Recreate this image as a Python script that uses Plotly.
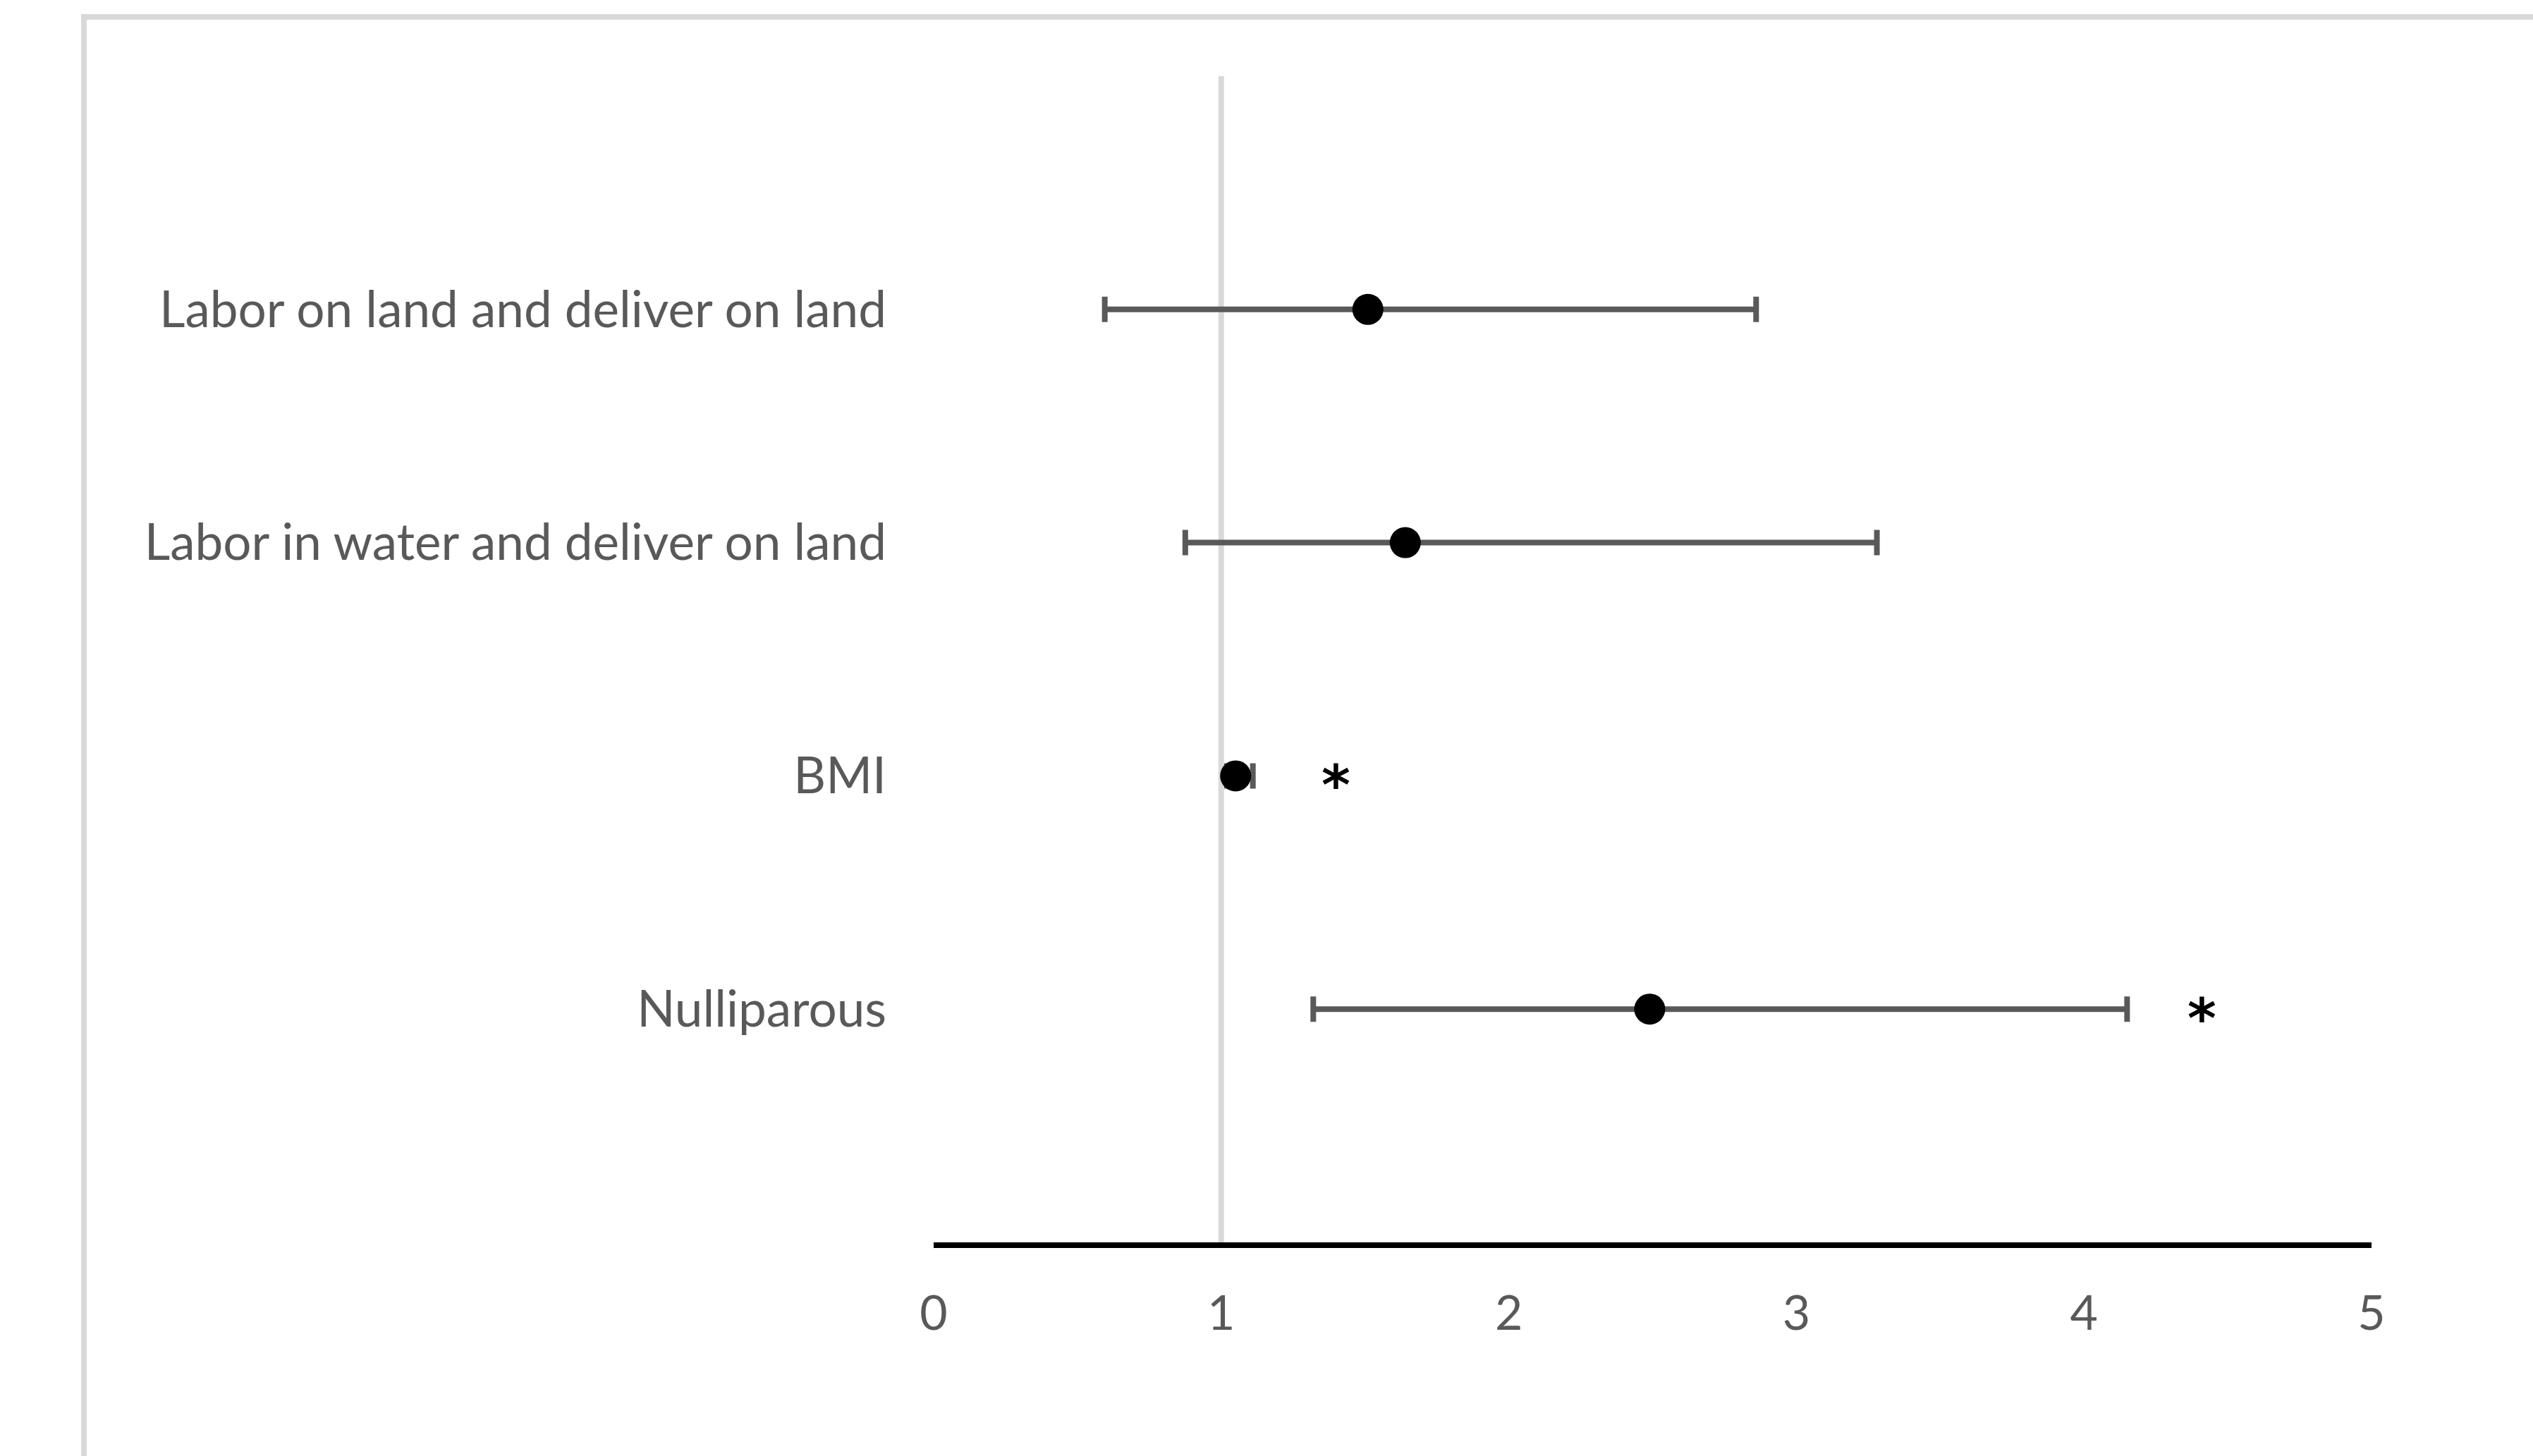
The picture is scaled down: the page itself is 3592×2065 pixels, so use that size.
import plotly.graph_objects as go

# Odds ratios with 95% confidence intervals
factors = [
    "Nulliparous",
    "BMI",
    "Labor in water and deliver on land",
    "Labor on land and deliver on land",
]
row_pos = [1, 2, 3, 4]
odds_ratio = [2.49, 1.05, 1.64, 1.51]
ci_low = [1.32, 1.02, 0.875, 0.595]
ci_high = [4.15, 1.11, 3.28, 2.86]

# Significance markers
sig_x = [4.41, 1.40]
sig_y = [1, 2]
sig_text = ["*", "*"]

x_ticks = [0, 1, 2, 3, 4, 5]
ref_value = 1

err_plus = [h - o for h, o in zip(ci_high, odds_ratio)]
err_minus = [o - l for o, l in zip(odds_ratio, ci_low)]

W, H = 3592, 2065
L, R = 1324, 3363
T, B = 108, 1762

fig = go.Figure()

# Reference line at OR = 1
fig.add_trace(go.Scatter(
    x=[ref_value, ref_value], y=[0, 5], mode="lines",
    line=dict(color="#D9D9D9", width=8), hoverinfo="skip", showlegend=False,
))

fig.add_trace(go.Scatter(
    x=odds_ratio, y=row_pos, mode="markers",
    marker=dict(size=44, color="black"),
    error_x=dict(type="data", symmetric=False, array=err_plus, arrayminus=err_minus,
                 color="#595959", thickness=8, width=18),
    showlegend=False,
))

for sx, sy, st in zip(sig_x, sig_y, sig_text):
    fig.add_annotation(
        x=sx, y=sy, text=st, showarrow=False, yshift=-14,
        font=dict(family="DejaVu Sans", size=78, color="black", weight="bold"),
    )

# Outer frame
fx0 = (119 - L) / (R - L)
fy1 = (B - 24) / (B - T)
fig.add_shape(type="rect", xref="paper", yref="paper",
              x0=fx0, x1=3.0, y0=-1.0, y1=fy1,
              line=dict(color="#D9D9D9", width=8), fillcolor="rgba(0,0,0,0)", layer="below")

fig.update_layout(
    width=W, height=H,
    margin=dict(l=L, r=W - R, t=T, b=H - B, pad=0),
    paper_bgcolor="white", plot_bgcolor="white",
    font=dict(family="Lato", color="#595959", size=68),
    xaxis=dict(
        range=[0, 5], tickvals=x_ticks, ticktext=[str(v) for v in x_ticks],
        showgrid=False, zeroline=False, showline=True, linecolor="black", linewidth=8,
        ticks="", ticklabelstandoff=34, tickfont=dict(size=68, color="#595959"),
    ),
    yaxis=dict(
        range=[0, 5], tickvals=row_pos, ticktext=factors,
        showgrid=False, zeroline=False, showline=False, ticks="",
        ticklabelstandoff=66, tickfont=dict(size=71, color="#595959"),
    ),
)

fig.write_html("out.html")
